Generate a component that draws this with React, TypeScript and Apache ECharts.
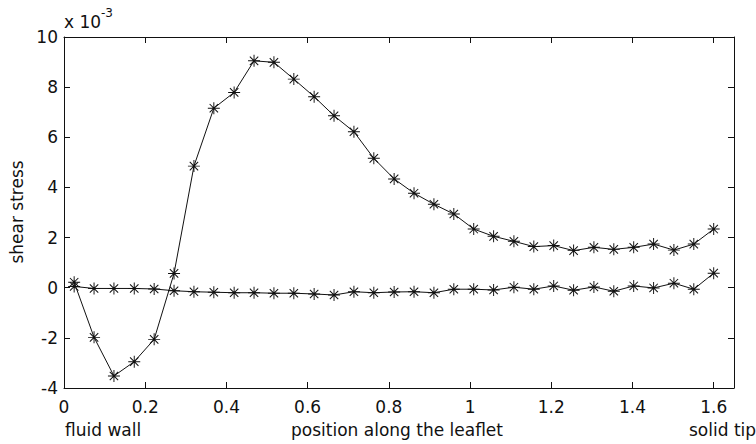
import React, { useEffect, useRef } from "react";
import * as echarts from "echarts";

// positions along the leaflet (x)
const positions = [
  0.025, 0.074, 0.123, 0.173, 0.222, 0.271, 0.32, 0.369, 0.419, 0.468, 0.517,
  0.566, 0.616, 0.665, 0.714, 0.763, 0.813, 0.862, 0.911, 0.96, 1.009, 1.058,
  1.108, 1.157, 1.206, 1.255, 1.305, 1.354, 1.403, 1.452, 1.502, 1.551, 1.6,
];

// shear stress (x 10^-3), upper curve
const stressUpper = [
  0.22, -1.98, -3.52, -2.95, -2.06, 0.57, 4.85, 7.16, 7.79, 9.05, 8.99, 8.32,
  7.62, 6.86, 6.22, 5.16, 4.34, 3.77, 3.33, 2.94, 2.34, 2.05, 1.85, 1.64, 1.68,
  1.48, 1.61, 1.53, 1.61, 1.74, 1.5, 1.74, 2.34,
];

// shear stress (x 10^-3), flat curve
const stressLower = [
  0.05, -0.03, -0.03, -0.03, -0.05, -0.12, -0.16, -0.18, -0.2, -0.2, -0.22,
  -0.22, -0.25, -0.29, -0.16, -0.2, -0.17, -0.16, -0.2, -0.06, -0.06, -0.09,
  0.02, -0.06, 0.07, -0.1, 0.03, -0.14, 0.07, -0.01, 0.18, -0.06, 0.58,
];

const xTickInterval = 0.2;
const yTicks = { min: -4, max: 10, interval: 2 };
const xRange = { min: 0, max: 1.65 };

const FONT = "DejaVu Sans";
const INK = "#111";

const STAR =
  "path://M0 46H100V54H0Z M46 0H54V100H46Z M12 18L18 12L88 82L82 88Z M82 12L88 18L18 88L12 82Z";

export default function App() {
  const ref = useRef<HTMLDivElement>(null);
  useEffect(() => {
    if (!ref.current) return;
    const chart = echarts.init(ref.current, null, { renderer: "svg" });
    const axisCommon = {
      type: "value" as const,
      axisLine: { show: true, onZero: false, lineStyle: { color: INK, width: 1 } },
      axisTick: { show: true, inside: true, length: 6, lineStyle: { color: INK, width: 1 } },
      splitLine: { show: false },
    };
    const seriesCommon = {
      type: "line" as const,
      symbol: STAR,
      symbolSize: 12,
      showSymbol: true,
      lineStyle: { color: INK, width: 1 },
      itemStyle: { color: INK },
      xAxisIndex: 0,
      yAxisIndex: 0,
      z: 3,
    };
    chart.setOption({
      animation: false,
      backgroundColor: "#fff",
      grid: { left: 64, right: 22, top: 37, bottom: 56, containLabel: false, outerBoundsMode: "none" },
      xAxis: [
        {
          ...axisCommon,
          position: "bottom",
          min: xRange.min,
          max: xRange.max,
          interval: xTickInterval,
          axisLabel: {
            show: true,
            margin: 10,
            showMaxLabel: false,
            color: INK,
            fontFamily: FONT,
            fontSize: 17,
          },
        },
        {
          ...axisCommon,
          position: "top",
          min: xRange.min,
          max: xRange.max,
          interval: xTickInterval,
          axisLabel: { show: false },
        },
      ],
      yAxis: [
        {
          ...axisCommon,
          position: "left",
          min: yTicks.min,
          max: yTicks.max,
          interval: yTicks.interval,
          axisLabel: { show: true, margin: 6, color: INK, fontFamily: FONT, fontSize: 17 },
        },
        {
          ...axisCommon,
          position: "right",
          min: yTicks.min,
          max: yTicks.max,
          interval: yTicks.interval,
          axisLabel: { show: false },
        },
      ],
      series: [
        { ...seriesCommon, name: "upper", data: positions.map((x, i) => [x, stressUpper[i]]) },
        { ...seriesCommon, name: "lower", data: positions.map((x, i) => [x, stressLower[i]]) },
      ],
      graphic: [
        {
          type: "text",
          x: 64,
          y: 22,
          style: { text: "x 10", fontFamily: FONT, fontSize: 17, fill: INK, align: "left", verticalAlign: "middle" },
        },
        {
          type: "text",
          x: 101,
          y: 13,
          style: { text: "-3", fontFamily: FONT, fontSize: 12, fill: INK, align: "left", verticalAlign: "middle" },
        },
        {
          type: "text",
          x: 17,
          y: 212,
          rotation: Math.PI / 2,
          style: { text: "shear stress", fontFamily: FONT, fontSize: 17, fill: INK, align: "center", verticalAlign: "middle" },
        },
        {
          type: "text",
          x: 65,
          y: 430,
          style: { text: "fluid wall", fontFamily: FONT, fontSize: 17, fill: INK, align: "left", verticalAlign: "middle" },
        },
        {
          type: "text",
          x: 397,
          y: 430,
          style: { text: "position along the leaflet", fontFamily: FONT, fontSize: 17, fill: INK, align: "center", verticalAlign: "middle" },
        },
        {
          type: "text",
          x: 689,
          y: 430,
          style: { text: "solid tip", fontFamily: FONT, fontSize: 17, fill: INK, align: "left", verticalAlign: "middle" },
        },
      ],
    });
    return () => chart.dispose();
  }, []);
  return (
    <div
      ref={ref}
      style={{ position: "fixed", left: 0, top: 0, width: 756, height: 444, background: "#fff" }}
    />
  );
}
